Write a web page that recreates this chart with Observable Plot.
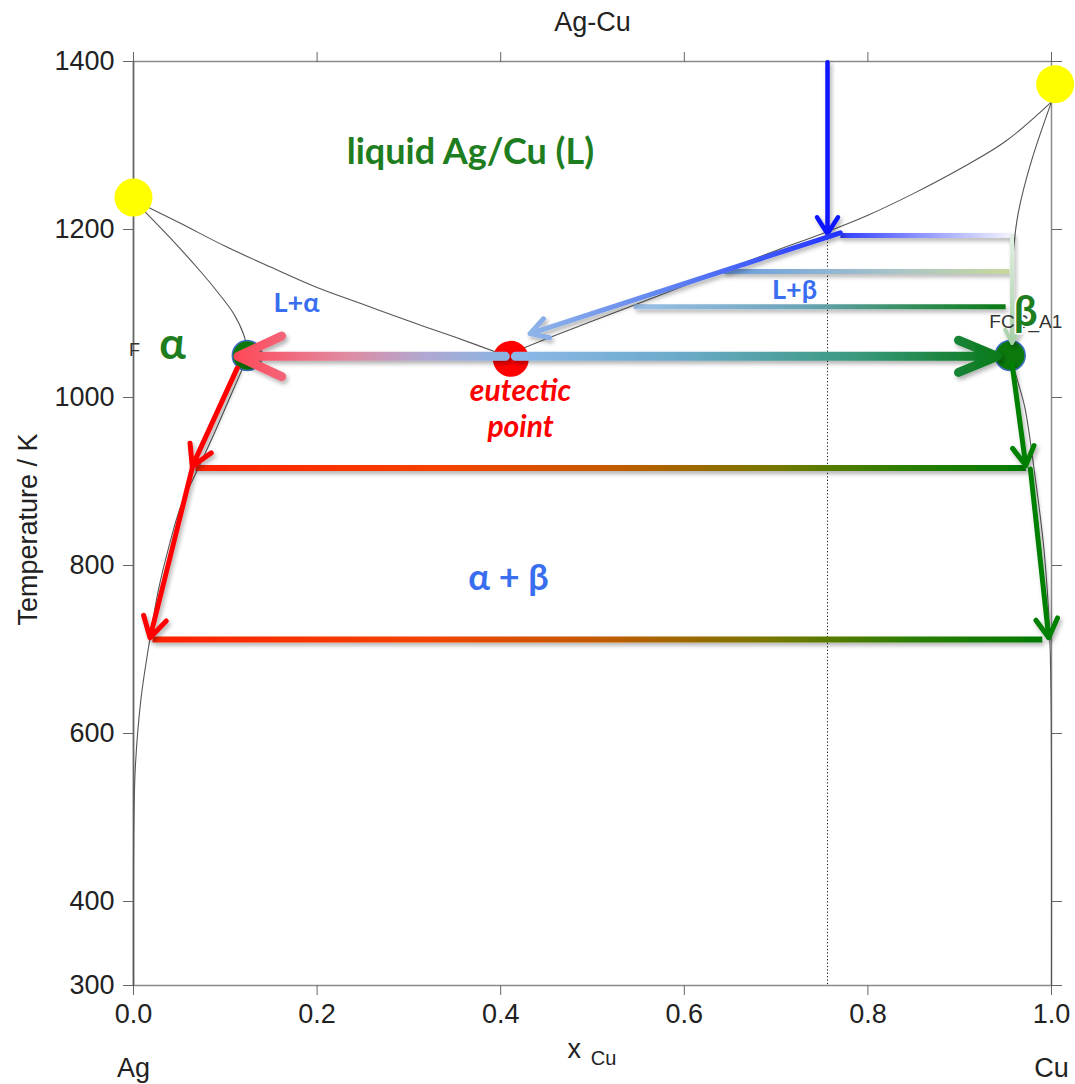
<!DOCTYPE html>
<html><head><meta charset="utf-8">
<script src="https://cdn.jsdelivr.net/npm/d3@7"></script>
<script src="https://cdn.jsdelivr.net/npm/@observablehq/plot@0.6"></script>
<style>html,body{margin:0;padding:0;background:#fff}svg{display:block}</style>
</head><body><div id="chart"></div>
<script>
// ---------- data ----------
const xTicks = [0, 0.2, 0.4, 0.6, 0.8, 1.0];
const yTicks = [300, 400, 600, 800, 1000, 1200, 1400];

const liquidusAg = [[0,1235],[0.05,1208],[0.1,1180],[0.15,1155],[0.2,1131],[0.25,1111],[0.3,1091],[0.35,1072],[0.405,1050]];
const liquidusCu = [[0.405,1050],[0.45,1070],[0.5,1091],[0.55,1112],[0.6,1133],[0.65,1154],[0.7,1175],[0.75,1195],[0.8,1217],[0.85,1243],[0.9,1272],[0.95,1305],[1,1352]];
const solidusAg = [[0,1235],[0.04,1190],[0.073,1150],[0.092,1125],[0.109,1100],[0.12,1075],[0.125,1050]];
const solidusCu = [[1,1352],[0.978,1281],[0.964,1221],[0.959,1180],[0.957,1120],[0.955,1050]];
const solvusAg = [[0.125,1050],[0.105,1000],[0.085,950],[0.068,910],[0.051,869],[0.038,820],[0.027,770],[0.016,700],[0.008,640],[0.002,560],[0.0005,500],[0,440],[0,300]];
const solvusCu = [[0.955,1050],[0.963,1020],[0.971,988],[0.981,915],[0.992,817],[0.998,718],[0.9995,640],[1,550],[1,300]];

const meltingPoints = [{x:0, y:1238}, {x:1.004, y:1373}];
const solidPoints = [{x:0.124, y:1050}, {x:0.955, y:1050}];
const eutecticPoint = [{x:0.411, y:1046}];
const isopleth = [{x:0.756, y1:1197, y2:300}];

const tieLines = [
  {name:"t1193", x1:0.770, x2:0.957, y:1193},
  {name:"t1150", x1:0.643, x2:0.954, y:1150},
  {name:"t1108", x1:0.545, x2:0.950, y:1108},
  {name:"t916",  x1:0.0675, x2:0.972, y:916},
  {name:"t712",  x1:0.0207, x2:0.990, y:712}
];
const arrows = [
  {name:"cool", x1:0.756, y1:1399, x2:0.756, y2:1195},
  {name:"liq",  x1:0.770, y1:1196, x2:0.432, y2:1076},
  {name:"pale", x1:0.957, y1:1193, x2:0.957, y2:1065},
  {name:"eutL", x1:0.405, y1:1049, x2:0.114, y2:1049},
  {name:"eutR", x1:0.416, y1:1049, x2:0.941, y2:1049},
  {name:"redA", x1:0.113, y1:1035, x2:0.064, y2:918},
  {name:"redB", x1:0.064, y1:916,  x2:0.018, y2:714},
  {name:"grnA", x1:0.957, y1:1040, x2:0.972, y2:919},
  {name:"grnB", x1:0.977, y1:915,  x2:0.997, y2:714}
];

const labels = [
  {text:"liquid Ag/Cu (L)", x:0.367, y:1292, kind:"big"},
  {text:"L+α", x:0.1776, y:1112, kind:"phase"},
  {text:"L+β", x:0.720, y:1128, kind:"phase"},
  {text:"α + β", x:0.4085, y:785, kind:"phase2"},
  {text:"α", x:0.0425, y:1063, kind:"greek"},
  {text:"eutectic", x:0.4216, y:1007, kind:"eut"},
  {text:"point", x:0.4216, y:964, kind:"eut"}
];

// ---------- styles ----------
const lowStops = [[0,"#ff2000"],[0.3,"#f54200"],[0.5,"#c45a00"],[0.7,"#747800"],[0.85,"#2c7e00"],[1,"#007a00"]];
const look = {
  t1193:{w:5, stops:[[0,"#2f3fff"],[0.55,"#9ea4ff"],[1,"#f4f4ff"]]},
  t1150:{w:5, stops:[[0,"#6a9ee0"],[0.6,"#a9c4c8"],[1,"#c8d89c"]]},
  t1108:{w:5, stops:[[0,"#9cc0e8"],[0.45,"#6aa4b8"],[0.8,"#2a8a4a"],[1,"#0a7a14"]]},
  t916: {w:6, stops:lowStops},
  t712: {w:6, stops:lowStops},
  cool:{w:4.5, head:6.5, angle:65, stroke:"#0a14ff"},
  liq: {w:5, head:6, angle:60, stops:[[0,"#2233ff"],[0.5,"#5a7cf2"],[1,"#8fb4e8"]]},
  pale:{w:4, head:5.5, angle:55, stops:[[0,"#e2f0e2"],[1,"#a6d0a6"]]},
  eutL:{w:9, head:8, angle:50, stops:[[0,"#8ab4e2"],[0.3,"#b0a8d2"],[0.6,"#e08aa0"],[1,"#ff4a5a"]]},
  eutR:{w:9, head:7, angle:45, stops:[[0,"#8cb8e8"],[0.35,"#6aaac8"],[0.7,"#3a9a80"],[1,"#0a7a1a"]]},
  redA:{w:5, head:7, angle:60, stroke:"#ff0000"},
  redB:{w:5, head:7, angle:60, stroke:"#ff0000"},
  grnA:{w:5, head:6.5, angle:60, stroke:"#008000"},
  grnB:{w:5, head:6.5, angle:60, stroke:"#008000"}
};
const labelLook = {
  big:   {fill:"#1e7d1e", fontSize:36, fontWeight:"bold", fontStyle:"normal"},
  phase: {fill:"#3a6ef0", fontSize:27, fontWeight:"bold", fontStyle:"normal"},
  phase2:{fill:"#3a6ef0", fontSize:36, fontWeight:"bold", fontStyle:"normal"},
  greek: {fill:"#1e7d1e", fontSize:44, fontWeight:"bold", fontStyle:"normal"},
  eut:   {fill:"#ff0000", fontSize:30, fontWeight:"bold", fontStyle:"italic"}
};
const annFont = "Lato, 'Open Sans', sans-serif";
const axFont = "'Liberation Sans', Arial, sans-serif";
const W = 1075, H = 1084;

const curve = (d) => Plot.line(d, {x: p => p[0], y: p => p[1], stroke:"#555", strokeWidth:1.1, curve:"catmull-rom"});

const marks = [
  Plot.frame({stroke:"#8a8a8a", strokeWidth:1.5}),
  Plot.ruleX([0], {stroke:"#666", strokeWidth:1.5}),
  Plot.axisY({ticks:yTicks, tickSize:10, tickPadding:9, fontSize:27, tickFormat:d3.format("d"), label:null, stroke:"#666", fill:"#222", fontFamily:axFont}),
  Plot.axisY({anchor:"right", ticks:yTicks, tickSize:10, tickFormat:() => "", label:null, stroke:"#666"}),
  Plot.axisX({ticks:xTicks, tickSize:10, tickPadding:8, fontSize:27, tickFormat:d3.format(".1f"), label:null, stroke:"#666", fill:"#222", fontFamily:axFont}),
  Plot.axisX({anchor:"top", ticks:xTicks, tickSize:10, tickFormat:() => "", label:null, stroke:"#666"}),
  Plot.ruleX(isopleth, {x:"x", y1:"y1", y2:"y2", stroke:"#111", strokeWidth:1, strokeDasharray:"1.2,2.2"}),
  curve(liquidusAg), curve(liquidusCu), curve(solidusAg), curve(solidusCu), curve(solvusAg), curve(solvusCu),
  Plot.dot(meltingPoints, {x:"x", y:"y", r:19, fill:"#ffff00"}),
  Plot.dot(solidPoints, {x:"x", y:"y", r:15, fill:"#0a780a", stroke:"#3f6fc4", strokeWidth:1.5}),
  Plot.dot(eutecticPoint, {x:"x", y:"y", r:18, fill:"#ff0000"})
];

for (const t of tieLines) {
  const s = look[t.name];
  marks.push(Plot.link([t], {x1:"x1", x2:"x2", y1:"y", y2:"y", stroke:`url(#g-${t.name})`, strokeWidth:s.w, strokeLinecap:"butt"}));
}
for (const a of arrows) {
  const s = look[a.name];
  marks.push(Plot.arrow([a], {x1:"x1", y1:"y1", x2:"x2", y2:"y2",
    stroke: s.stops ? `url(#g-${a.name})` : s.stroke,
    strokeWidth:s.w, headLength:s.head, headAngle:s.angle, strokeLinecap:"round", strokeLinejoin:"round"}));
}
// extra fixed labels
marks.push(Plot.text(["FCC_A1"], {x:0.972, y:1090, fontSize:19, fill:"#333", fontFamily:axFont}));
marks.push(Plot.text(["β"], {x:0.972, y:1101, fontSize:42, fontWeight:"bold", fill:"#1e7d1e", fontFamily:annFont, stroke:"#fff", strokeWidth:3, paintOrder:"stroke"}));
marks.push(Plot.text(["F"], {x:-0.005, y:1056, fontSize:18, fill:"#333", textAnchor:"start", fontFamily:axFont}));
for (const k of Object.keys(labelLook)) {
  const L = labelLook[k];
  marks.push(Plot.text(labels.filter(d => d.kind === k), {x:"x", y:"y", text:"text", fill:L.fill, fontSize:L.fontSize, fontWeight:L.fontWeight, fontStyle:L.fontStyle, fontFamily:annFont}));
}
marks.push(Plot.text(["Ag-Cu"], {frameAnchor:"top", dy:-39, lineAnchor:"middle", textAnchor:"middle", fontSize:27, fill:"#222", fontFamily:axFont}));
marks.push(Plot.text(["Temperature / K"], {frameAnchor:"left", dx:-105, dy:6, rotate:-90, textAnchor:"middle", lineAnchor:"middle", fontSize:27, fill:"#222", fontFamily:axFont}));
marks.push(Plot.text(["x"], {x:0.480, frameAnchor:"bottom", dy:64, lineAnchor:"middle", fontSize:27, fill:"#222", fontFamily:axFont}));
marks.push(Plot.text(["Cu"], {x:0.512, frameAnchor:"bottom", dy:73, lineAnchor:"middle", fontSize:20, fill:"#222", fontFamily:axFont}));
marks.push(Plot.text(["Ag"], {x:0, frameAnchor:"bottom", dy:83, lineAnchor:"middle", fontSize:27, fill:"#222", fontFamily:axFont}));
marks.push(Plot.text(["Cu"], {x:1, frameAnchor:"bottom", dy:83, lineAnchor:"middle", fontSize:27, fill:"#222", fontFamily:axFont}));

const chart = Plot.plot({
  width:W, height:H,
  marginLeft:133, marginRight:24, marginTop:61, marginBottom:99,
  x:{domain:[0,1]}, y:{domain:[300,1400]},
  style:{fontFamily:axFont, background:"#fff", overflow:"visible"},
  marks
});

// gradients & shadow, positioned through the plot's own scales
const sx = chart.scale("x"), sy = chart.scale("y");
const svg = d3.select(chart);
const defs = svg.insert("defs", ":first-child");
const addGrad = (name, x1, y1, x2, y2, stops) => {
  const g = defs.append("linearGradient").attr("id", "g-" + name).attr("gradientUnits", "userSpaceOnUse")
    .attr("x1", sx.apply(x1)).attr("y1", sy.apply(y1)).attr("x2", sx.apply(x2)).attr("y2", sy.apply(y2));
  for (const [o, c] of stops) g.append("stop").attr("offset", o).attr("stop-color", c);
};
for (const t of tieLines) addGrad(t.name, t.x1, t.y, t.x2, t.y + 0.001, look[t.name].stops);
for (const a of arrows) if (look[a.name].stops) addGrad(a.name, a.x1, a.y1, a.x2, a.y2 + (a.y1 === a.y2 ? 0.001 : 0), look[a.name].stops);
const f = defs.append("filter").attr("id", "shadow").attr("filterUnits", "userSpaceOnUse")
  .attr("x", 0).attr("y", 0).attr("width", W).attr("height", H);
f.append("feDropShadow").attr("dx", 2).attr("dy", 3).attr("stdDeviation", 2).attr("flood-color", "#000").attr("flood-opacity", 0.3);
svg.selectAll('g[aria-label="arrow"], g[aria-label="link"]').attr("filter", "url(#shadow)");

document.getElementById("chart").appendChild(chart);
</script>
</body></html>
